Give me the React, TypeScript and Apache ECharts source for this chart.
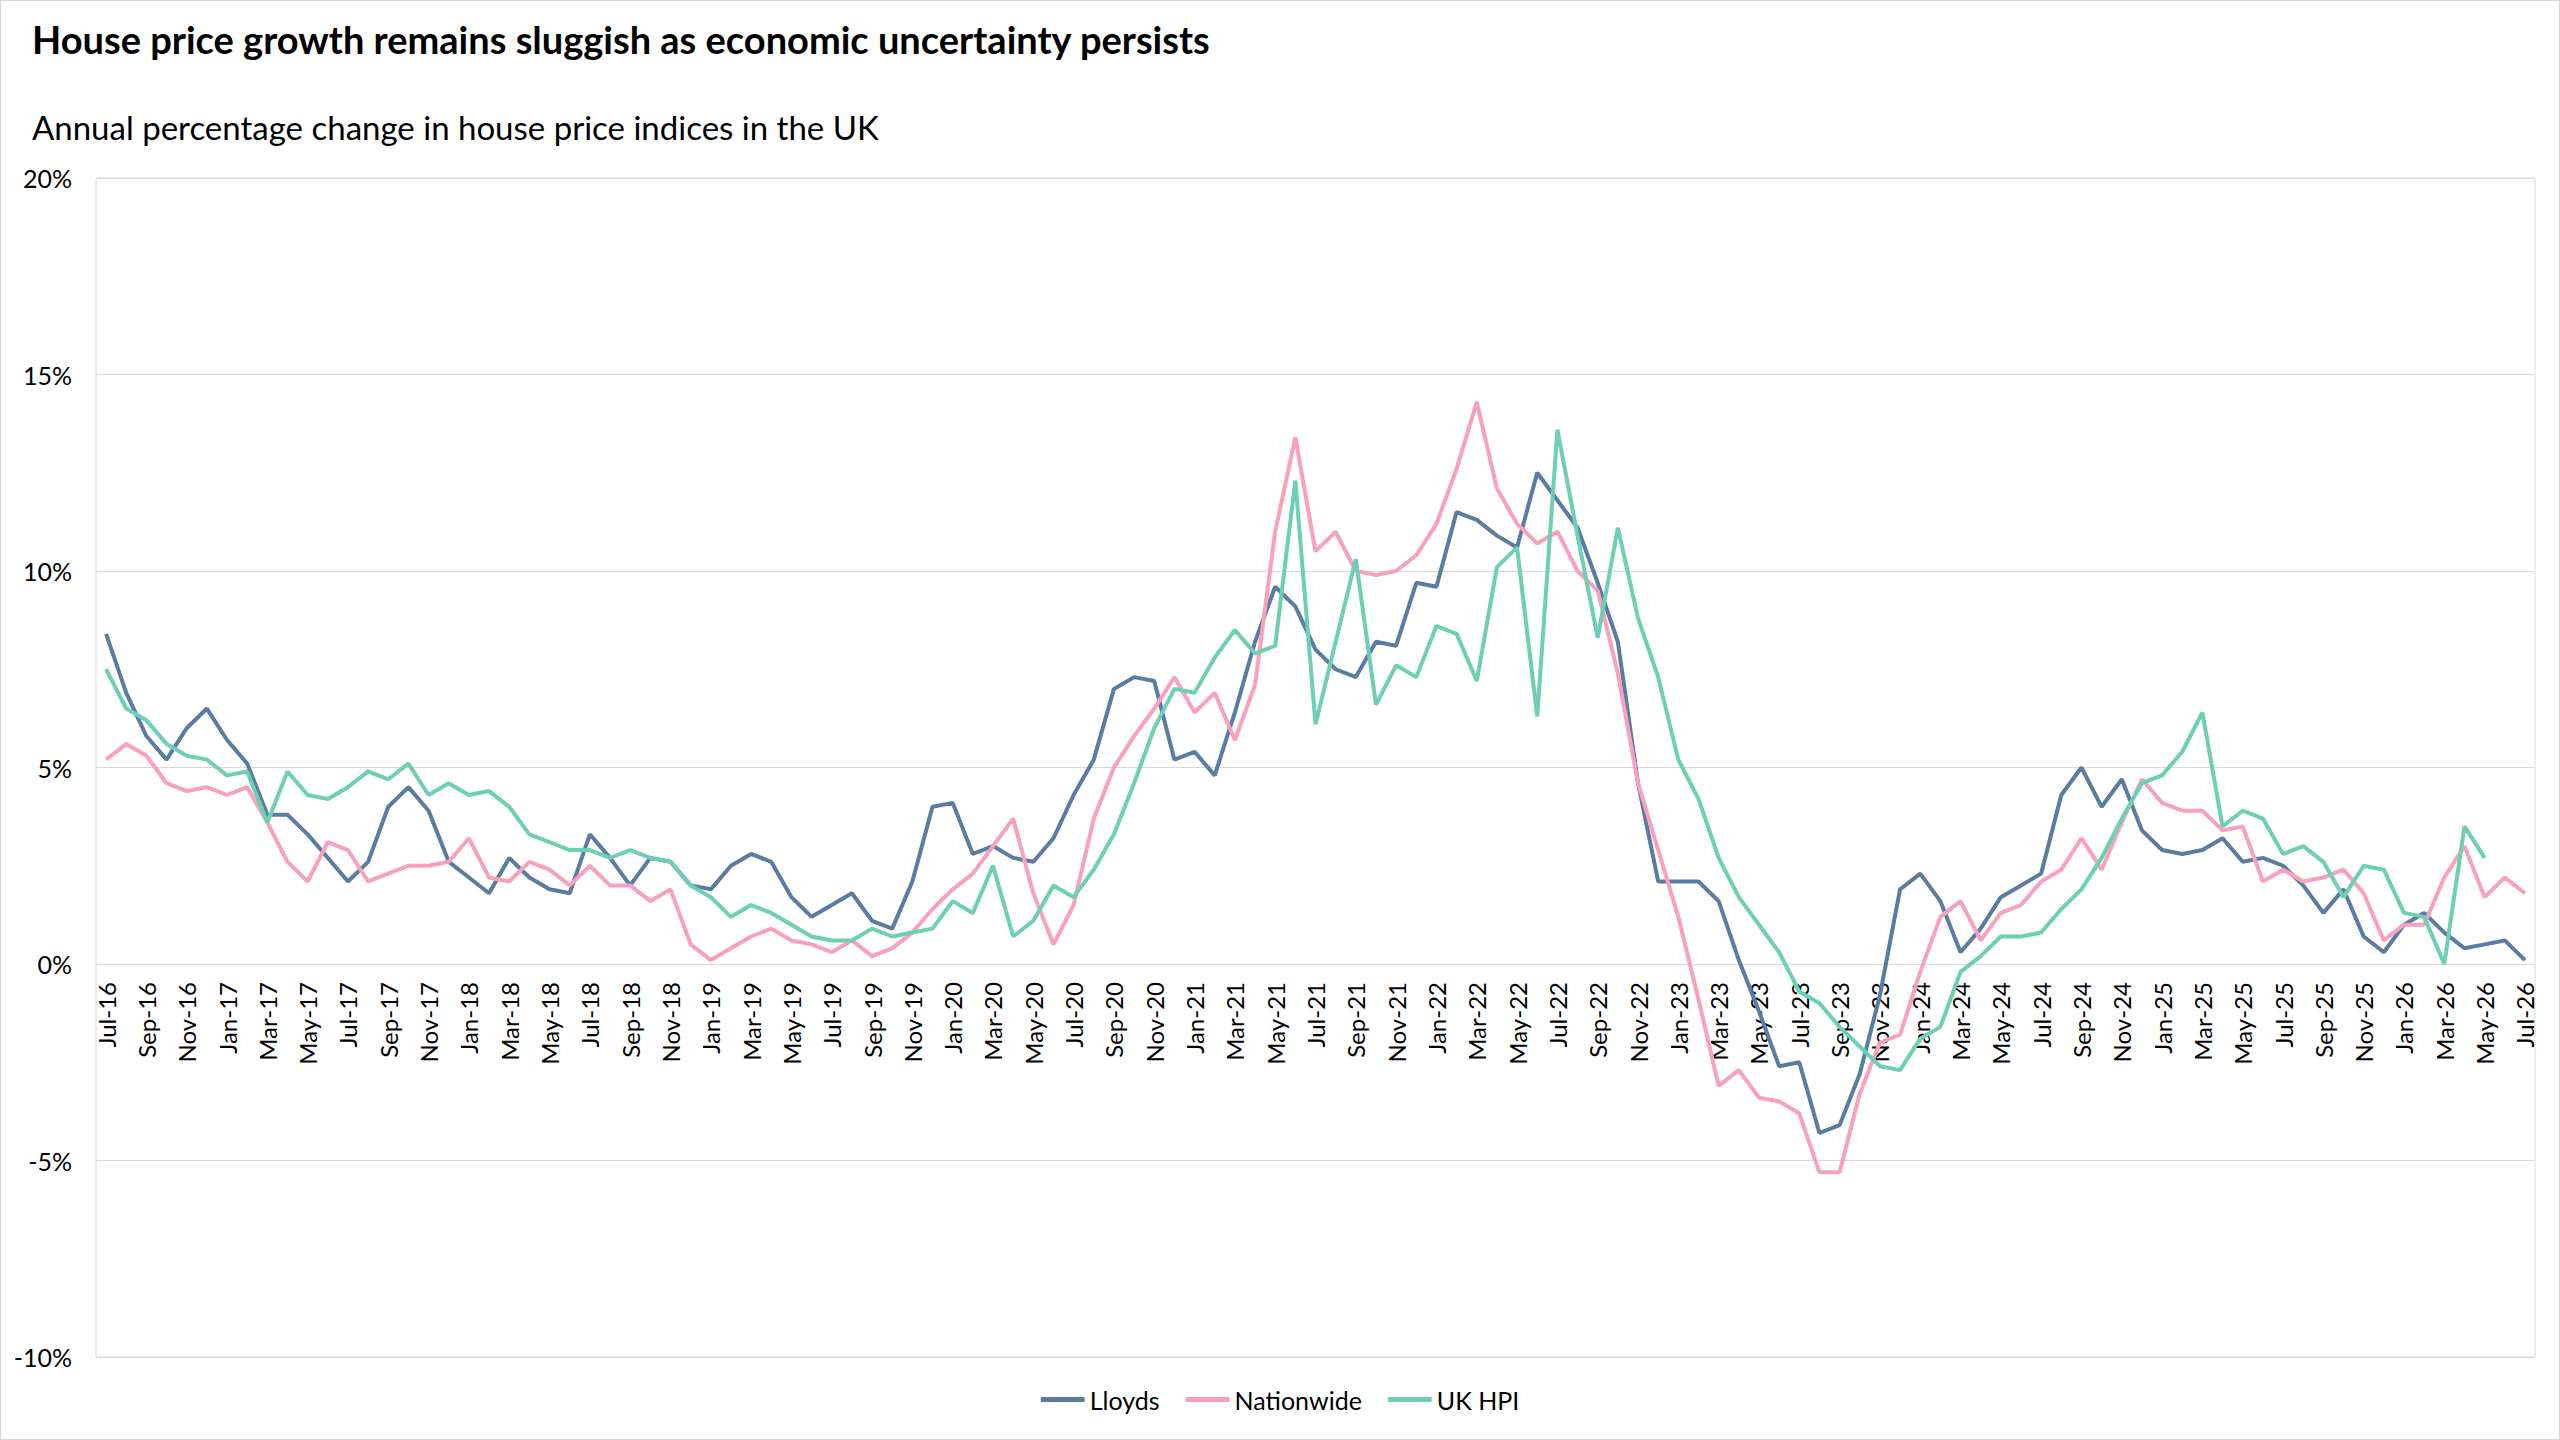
import React from 'react';
import * as echarts from 'echarts';

const MONTHS = ['Jan', 'Feb', 'Mar', 'Apr', 'May', 'Jun', 'Jul', 'Aug', 'Sep', 'Oct', 'Nov', 'Dec'];

// Jul-16 .. Jul-26
const categories: string[] = [];
for (let k = 0; k <= 120; k++) {
  const m = (6 + k) % 12;
  const y = 16 + Math.floor((6 + k) / 12);
  categories.push(`${MONTHS[m]}-${y}`);
}

const lloyds = [
  8.4, 6.9, 5.8, 5.2, 6.0, 6.5, 5.7, 5.1, 3.8, 3.8, 3.3, 2.7,
  2.1, 2.6, 4.0, 4.5, 3.9, 2.6, 2.2, 1.8, 2.7, 2.2, 1.9, 1.8,
  3.3, 2.7, 2.0, 2.7, 2.6, 2.0, 1.9, 2.5, 2.8, 2.6, 1.7, 1.2,
  1.5, 1.8, 1.1, 0.9, 2.1, 4.0, 4.1, 2.8, 3.0, 2.7, 2.6, 3.2,
  4.3, 5.2, 7.0, 7.3, 7.2, 5.2, 5.4, 4.8, 6.4, 8.2, 9.6, 9.1,
  8.0, 7.5, 7.3, 8.2, 8.1, 9.7, 9.6, 11.5, 11.3, 10.9, 10.6, 12.5,
  11.8, 11.1, 9.7, 8.2, 4.6, 2.1, 2.1, 2.1, 1.6, 0.1, -1.2, -2.6,
  -2.5, -4.3, -4.1, -2.8, -0.8, 1.9, 2.3, 1.6, 0.3, 0.9, 1.7, 2.0,
  2.3, 4.3, 5.0, 4.0, 4.7, 3.4, 2.9, 2.8, 2.9, 3.2, 2.6, 2.7,
  2.5, 2.0, 1.3, 1.9, 0.7, 0.3, 1.0, 1.3, 0.8, 0.4, 0.5, 0.6,
  0.1,
];

const nationwide = [
  5.2, 5.6, 5.3, 4.6, 4.4, 4.5, 4.3, 4.5, 3.6, 2.6, 2.1, 3.1,
  2.9, 2.1, 2.3, 2.5, 2.5, 2.6, 3.2, 2.2, 2.1, 2.6, 2.4, 2.0,
  2.5, 2.0, 2.0, 1.6, 1.9, 0.5, 0.1, 0.4, 0.7, 0.9, 0.6, 0.5,
  0.3, 0.6, 0.2, 0.4, 0.8, 1.4, 1.9, 2.3, 3.0, 3.7, 1.8, 0.5,
  1.5, 3.7, 5.0, 5.8, 6.5, 7.3, 6.4, 6.9, 5.7, 7.1, 11.0, 13.4,
  10.5, 11.0, 10.0, 9.9, 10.0, 10.4, 11.2, 12.6, 14.3, 12.1, 11.2, 10.7,
  11.0, 10.0, 9.5, 7.4, 4.6, 2.9, 1.2, -0.9, -3.1, -2.7, -3.4, -3.5,
  -3.8, -5.3, -5.3, -3.3, -2.0, -1.8, -0.2, 1.2, 1.6, 0.6, 1.3, 1.5,
  2.1, 2.4, 3.2, 2.4, 3.6, 4.7, 4.1, 3.9, 3.9, 3.4, 3.5, 2.1,
  2.4, 2.1, 2.2, 2.4, 1.8, 0.6, 1.0, 1.0, 2.2, 3.0, 1.7, 2.2,
  1.8,
];

const ukHpi = [
  7.5, 6.5, 6.2, 5.6, 5.3, 5.2, 4.8, 4.9, 3.6, 4.9, 4.3, 4.2,
  4.5, 4.9, 4.7, 5.1, 4.3, 4.6, 4.3, 4.4, 4.0, 3.3, 3.1, 2.9,
  2.9, 2.7, 2.9, 2.7, 2.6, 2.0, 1.7, 1.2, 1.5, 1.3, 1.0, 0.7,
  0.6, 0.6, 0.9, 0.7, 0.8, 0.9, 1.6, 1.3, 2.5, 0.7, 1.1, 2.0,
  1.7, 2.4, 3.3, 4.6, 6.0, 7.0, 6.9, 7.8, 8.5, 7.9, 8.1, 12.3,
  6.1, 8.2, 10.3, 6.6, 7.6, 7.3, 8.6, 8.4, 7.2, 10.1, 10.6, 6.3,
  13.6, 10.9, 8.3, 11.1, 8.8, 7.3, 5.2, 4.2, 2.7, 1.7, 1.0, 0.3,
  -0.7, -1.0, -1.6, -2.1, -2.6, -2.7, -1.9, -1.6, -0.2, 0.2, 0.7, 0.7,
  0.8, 1.4, 1.9, 2.7, 3.7, 4.6, 4.8, 5.4, 6.4, 3.5, 3.9, 3.7,
  2.8, 3.0, 2.6, 1.7, 2.5, 2.4, 1.3, 1.2, 0.0, 3.5, 2.7, null,
  null,
];

const Y_MIN = -10;
const Y_MAX = 20;

const FONT = 'Lato, "Noto Sans", sans-serif';
const GRID_TOP = 177;
const GRID_BOTTOM = 82;

const App: React.FC = () => {
  const chartRef = React.useRef<HTMLDivElement>(null);

  React.useEffect(() => {
    if (!chartRef.current) return;
    const chart = echarts.init(chartRef.current, undefined, { renderer: 'svg' });

    // category axis sits on the 0% line, labels hang below it
    const gridHeight = chart.getHeight() - GRID_TOP - GRID_BOTTOM;
    const zeroOffset = (gridHeight * (0 - Y_MIN)) / (Y_MAX - Y_MIN);

    const lineSeries = (name: string, data: (number | null)[], color: string) => ({
      name,
      type: 'line',
      data,
      symbol: 'none',
      lineStyle: { color, width: 4 },
      itemStyle: { color },
    });

    chart.setOption({
      animation: false,
      backgroundColor: '#fff',
      textStyle: { fontFamily: FONT },
      title: [
        {
          text: 'House price growth remains sluggish as economic uncertainty persists',
          left: 26,
          top: 14,
          textStyle: { fontFamily: FONT, fontSize: 38, fontWeight: 'bold', color: '#000' },
        },
        {
          text: 'Annual percentage change in house price indices in the UK',
          left: 26,
          top: 104,
          textStyle: { fontFamily: FONT, fontSize: 33, fontWeight: 'normal', color: '#000' },
        },
      ],
      legend: {
        bottom: 22,
        left: 'center',
        icon: 'roundRect',
        itemWidth: 44,
        itemHeight: 5,
        itemGap: 26,
        textStyle: { fontFamily: FONT, fontSize: 25, color: '#000' },
        data: ['Lloyds', 'Nationwide', 'UK HPI'],
      },
      grid: {
        left: 95,
        right: 24,
        top: GRID_TOP,
        bottom: GRID_BOTTOM,
        show: true,
        borderColor: '#d9d9d9',
        borderWidth: 1,
      },
      xAxis: {
        type: 'category',
        data: categories,
        boundaryGap: true,
        position: 'bottom',
        offset: -zeroOffset,
        axisLine: { onZero: false, lineStyle: { color: '#d9d9d9', width: 1 } },
        axisTick: { show: false },
        axisLabel: {
          interval: 1,
          rotate: 90,
          margin: 18,
          fontFamily: FONT,
          fontSize: 24,
          color: '#000',
        },
      },
      yAxis: {
        type: 'value',
        min: Y_MIN,
        max: Y_MAX,
        interval: 5,
        axisLine: { show: false },
        axisTick: { show: false },
        splitLine: { lineStyle: { color: '#d9d9d9', width: 1 } },
        axisLabel: {
          formatter: '{value}%',
          margin: 24,
          fontFamily: FONT,
          fontSize: 25,
          color: '#000',
        },
      },
      series: [
        lineSeries('Lloyds', lloyds, '#5a7ba2'),
        lineSeries('Nationwide', nationwide, '#f9a0bd'),
        lineSeries('UK HPI', ukHpi, '#6dcfb4'),
      ],
    });

    return () => {
      chart.dispose();
    };
  }, []);

  return (
    <div
      style={{
        position: 'absolute',
        left: 0,
        top: 0,
        width: 2560,
        height: 1440,
        boxSizing: 'border-box',
        border: '1px solid #d6d6d6',
        background: '#fff',
      }}
    >
      <div ref={chartRef} style={{ width: '100%', height: '100%' }} />
    </div>
  );
};

export default App;
